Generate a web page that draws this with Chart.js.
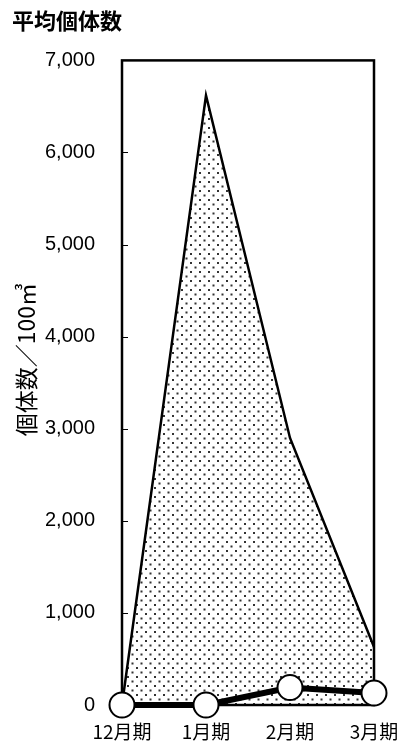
<!DOCTYPE html>
<html lang="ja">
<head>
  <meta charset="UTF-8">
  <title>平均個体数</title>
  <script src="https://cdn.jsdelivr.net/npm/chart.js"></script>
  <style>
    html, body { margin: 0; padding: 0; background: #fff; }
  </style>
</head>
<body>
  <canvas id="avgChart" width="401" height="746"></canvas>
  <script>
    const categories = ['12月期', '1月期', '2月期', '3月期'];
    const areaValues = [0, 6620, 2900, 630];
    const lineValues = [0, 0, 190, 130];
    const yMin = 0;
    const yMax = 7000;
    const yStep = 1000;

    // dotted fill like the original
    const pc = document.createElement('canvas');
    pc.width = 9; pc.height = 9;
    const pctx = pc.getContext('2d');
    pctx.fillStyle = '#fff';
    pctx.fillRect(0, 0, 9, 9);
    pctx.fillStyle = '#333';
    pctx.fillRect(1, 1, 2, 2);
    pctx.fillRect(5.5, 5.5, 2, 2);
    const dots = document.createElement('canvas').getContext('2d').createPattern(pc, 'repeat');

    const framePlugin = {
      id: 'frame',
      afterDatasetDraw(chart, args) {
        if (args.index !== 1) return;
        const { ctx, chartArea: a } = chart;
        const y = chart.scales.y;
        ctx.save();
        ctx.strokeStyle = '#000';
        ctx.lineWidth = 1;
        y.ticks.forEach(t => {
          if (t.value === yMin || t.value === yMax) return;
          const py = Math.round(y.getPixelForValue(t.value)) + 0.5;
          ctx.beginPath();
          ctx.moveTo(a.left, py);
          ctx.lineTo(a.left + 6, py);
          ctx.stroke();
        });
        ctx.lineWidth = 2.5;
        ctx.strokeRect(a.left, a.top, a.right - a.left, a.bottom - a.top);
        ctx.restore();
      }
    };

    new Chart(document.getElementById('avgChart'), {
      type: 'line',
      data: {
        labels: categories,
        datasets: [{
          label: '平均個体数',
          data: lineValues,
          order: 0,
          borderColor: '#000',
          borderWidth: 6,
          pointRadius: 12.5,
          pointBackgroundColor: '#fff',
          pointBorderColor: '#000',
          pointBorderWidth: 2,
          fill: false,
          tension: 0,
          clip: false
        }, {
          label: '平均個体数(面)',
          data: areaValues,
          order: 1,
          borderColor: '#000',
          borderWidth: 2.5,
          backgroundColor: dots,
          pointRadius: 0,
          fill: 'origin',
          tension: 0
        }]
      },
      options: {
        responsive: false,
        animation: false,
        layout: { padding: { left: 12, right: 27, top: 7, bottom: 0 } },
        plugins: {
          legend: { display: false },
          tooltip: { enabled: false },
          title: {
            display: true,
            text: '平均個体数',
            align: 'start',
            color: '#000',
            font: { family: '"Noto Sans CJK JP"', size: 22, weight: 'bold' },
            padding: { top: 0, bottom: 27 }
          }
        },
        scales: {
          x: {
            offset: false,
            grid: { display: false },
            border: { display: false },
            ticks: {
              color: '#000',
              padding: 7,
              maxRotation: 0,
              font: { family: '"Noto Sans CJK JP"', size: 19 }
            },
            afterFit(s) { s.height = 41; s.paddingRight = 0; }
          },
          y: {
            min: yMin,
            max: yMax,
            grid: { display: false },
            border: { display: false },
            title: {
              display: true,
              text: '　　個体数／100㎥',
              color: '#000',
              padding: { top: 0, bottom: 0 },
              font: { family: '"Noto Sans CJK JP"', size: 23 }
            },
            ticks: {
              stepSize: yStep,
              color: '#000',
              padding: 19,
              font: { family: '"Liberation Sans"', size: 20 },
              callback: v => v.toLocaleString('en-US')
            },
            afterFit(s) { s.width = 110; }
          }
        }
      },
      plugins: [framePlugin]
    });
  </script>
</body>
</html>
